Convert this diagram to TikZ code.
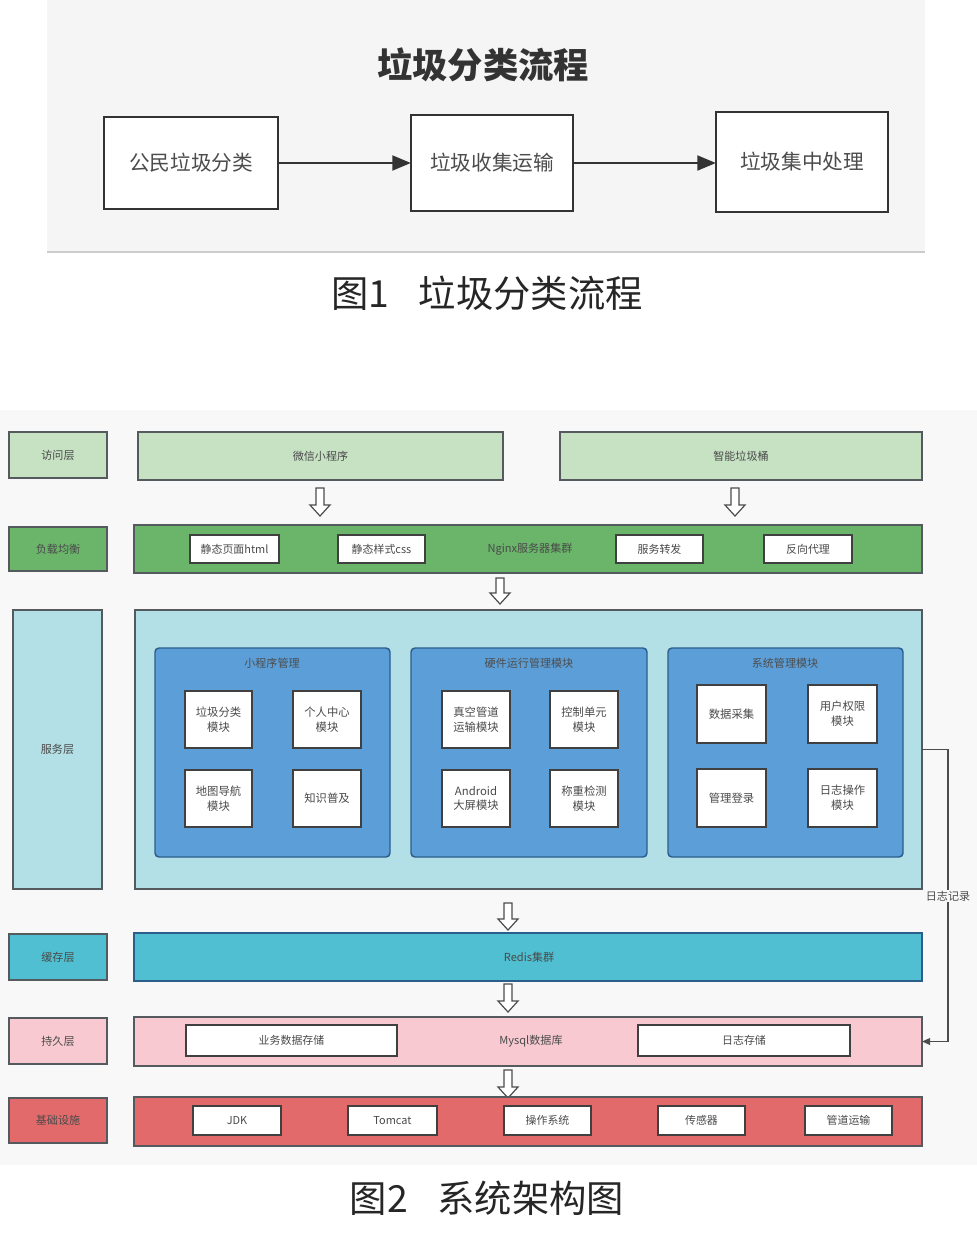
\documentclass[tikz,border=0pt]{standalone}
\usepackage{fontspec}
\setmainfont{Noto Sans CJK SC}
\usetikzlibrary{arrows.meta}
\definecolor{bgA}{HTML}{F5F5F5}
\definecolor{bgB}{HTML}{F8F8F8}
\definecolor{cAcc}{HTML}{C6E2C3}
\definecolor{cNg}{HTML}{6AB56A}
\definecolor{cSvc}{HTML}{B3E0E6}
\definecolor{cPan}{HTML}{5C9FD8}
\definecolor{cPanB}{HTML}{2C5E8C}
\definecolor{cRed}{HTML}{4FBFD1}
\definecolor{cPink}{HTML}{F8C9D0}
\definecolor{cInf}{HTML}{E26A6A}
\definecolor{bord}{HTML}{555A5E}
\definecolor{txt}{HTML}{4A4A4A}
\newcommand\bx[7]{\node[#6, sz={#4-#2}{#5-#3}] (#1) at ({(#2+#4)/2},{(#3+#5)/2}) {#7};}
\newcommand\harr[3]{\draw[line width=0.9pt, draw=black!70, fill=white, line join=miter]
  (#1-4,#2) -- (#1+4,#2) -- (#1+4,#3-11) -- (#1+10,#3-11) -- (#1,#3) -- (#1-10,#3-11) -- (#1-4,#3-11) -- cycle;}
\begin{document}
\begin{tikzpicture}[x=0.75pt,y=-0.75pt,
  sz/.style 2 args={minimum width={(#1)*0.75pt}, minimum height={(#2)*0.75pt}, inner sep=0pt, outer sep=0pt},
  fbox/.style={draw=black!80, line width=2pt, fill=white, font=\fontsize{15.5}{18}\selectfont, text=black!70},
  lay/.style={draw=bord, line width=1.1pt, font=\fontsize{8.3}{10}\selectfont, text=txt, align=center},
  wbox/.style={draw=black!75, line width=1.1pt, fill=white, font=\fontsize{8.2}{10}\selectfont, text=txt, align=center},
  ibox/.style={draw=black!75, line width=1.3pt, fill=white, font=\fontsize{8.5}{11}\selectfont, text=txt, align=center},
  panel/.style={draw=cPanB, fill=cPan, line width=1.1pt, rounded corners=3pt},
  lbl/.style={font=\fontsize{8.3}{10}\selectfont, text=txt},
  flow/.style={line width=2.2pt, draw=black!80, -{Triangle[length=14pt,width=11pt]}},
  figcap/.style={font=\fontsize{28}{33}\selectfont, text=black!85},
]
\useasboundingbox (0,0) rectangle (977,1238);
\fill[white] (0,0) rectangle (977,1238);
% ---------- Figure 1 ----------
\fill[bgA] (47,0) rectangle (925,252);
\draw[black!20, line width=0.8pt] (47,252) -- (925,252);
\node[font=\fontsize{26.5}{30}\selectfont\bfseries, text=black!80] (t1) at (483,65) {垃圾分类流程};
\bx{f1}{104}{117}{278}{209}{fbox}{公民垃圾分类}
\bx{f2}{411}{115}{573}{211}{fbox}{垃圾收集运输}
\bx{f3}{716}{112}{888}{212}{fbox}{垃圾集中处理}
\draw[flow] (f1.east) -- (f2.west |- f1.east);
\draw[flow] (f2.east) -- (f3.west |- f2.east);
\node[figcap] (c1) at (487,293) {图1\hspace{0.8em}垃圾分类流程};
% ---------- Figure 2 ----------
\fill[bgB] (0,410) rectangle (977,1165);
% access
\bx{lA}{9}{432}{107}{478}{lay, fill=cAcc}{访问层}
\bx{wx}{138}{432}{503}{480}{lay, fill=cAcc}{微信小程序}
\bx{zn}{560}{432}{922}{480}{lay, fill=cAcc}{智能垃圾桶}
\harr{320}{488}{516}
\harr{735}{488}{516}
% load balance
\bx{lB}{9}{527}{107}{571}{lay, fill=cNg}{负载均衡}
\bx{ng}{134}{525}{922}{573}{lay, fill=cNg}{}
\node[lbl] (ngt) at (530,549) {Nginx服务器集群};
\bx{h1}{190}{535}{279}{563}{wbox}{静态页面html}
\bx{h2}{338}{535}{425}{563}{wbox}{静态样式css}
\bx{h3}{616}{535}{703}{563}{wbox}{服务转发}
\bx{h4}{764}{535}{852}{563}{wbox}{反向代理}
\harr{500}{578}{604}
% service
\bx{lC}{13}{610}{102}{889}{lay, fill=cSvc}{服务层}
\bx{svc}{135}{610}{922}{889}{lay, fill=cSvc}{}
\bx{p1}{155}{648}{390}{857}{panel}{}
\bx{p2}{411}{648}{647}{857}{panel}{}
\bx{p3}{668}{648}{903}{857}{panel}{}
\node[lbl, text=black!70] (p1t) at (272,663) {小程序管理};
\node[lbl, text=black!70] (p2t) at (529,663) {硬件运行管理模块};
\node[lbl, text=black!70] (p3t) at (785,663) {系统管理模块};
\bx{m1}{185}{691}{252}{748}{ibox}{垃圾分类\\模块}
\bx{m2}{293}{691}{361}{748}{ibox}{个人中心\\模块}
\bx{m3}{185}{770}{252}{827}{ibox}{地图导航\\模块}
\bx{m4}{293}{770}{361}{827}{ibox}{知识普及}
\bx{m5}{442}{691}{510}{748}{ibox}{真空管道\\运输模块}
\bx{m6}{550}{691}{618}{748}{ibox}{控制单元\\模块}
\bx{m7}{442}{770}{510}{827}{ibox}{Android\\大屏模块}
\bx{m8}{550}{770}{618}{827}{ibox}{称重检测\\模块}
\bx{m9}{697}{685}{766}{743}{ibox}{数据采集}
\bx{m10}{808}{685}{877}{743}{ibox}{用户权限\\模块}
\bx{m11}{697}{769}{766}{827}{ibox}{管理登录}
\bx{m12}{808}{769}{877}{827}{ibox}{日志操作\\模块}
\harr{508}{903}{930}
% cache
\bx{lD}{9}{934}{107}{980}{lay, fill=cRed}{缓存层}
\bx{rd}{134}{933}{922}{981}{lay, fill=cRed, draw=cPanB}{}
\node[lbl] (rdt) at (529,957) {Redis集群};
\harr{508}{984}{1012}
% persist
\bx{lE}{9}{1018}{107}{1064}{lay, fill=cPink}{持久层}
\bx{my}{134}{1017}{922}{1066}{lay, fill=cPink}{}
\node[lbl] (myt) at (531,1041) {Mysql数据库};
\bx{s1}{186}{1025}{397}{1056}{wbox}{业务数据存储}
\bx{s2}{638}{1025}{850}{1056}{wbox}{日志存储}
\harr{508}{1070}{1098}
% infrastructure
\bx{lF}{9}{1098}{107}{1143}{lay, fill=cInf}{基础设施}
\bx{inf}{134}{1097}{922}{1146}{lay, fill=cInf}{}
\bx{i1}{193}{1106}{281}{1135}{wbox}{JDK}
\bx{i2}{348}{1106}{437}{1135}{wbox}{Tomcat}
\bx{i3}{504}{1106}{591}{1135}{wbox}{操作系统}
\bx{i4}{658}{1106}{745}{1135}{wbox}{传感器}
\bx{i5}{805}{1106}{892}{1135}{wbox}{管道运输}
% log connector
\coordinate (lgc) at (948,1041.5);
\draw[line width=1pt, draw=black!70, -{Triangle[length=6pt,width=5pt]}] (svc.east) -| (lgc) -- (my.east);
\node[lbl, fill=bgB, inner sep=1pt] (lgt) at (948,896) {日志记录};
\node[figcap] (c2) at (487,1198) {图2\hspace{0.8em}系统架构图};
\end{tikzpicture}
\end{document}
